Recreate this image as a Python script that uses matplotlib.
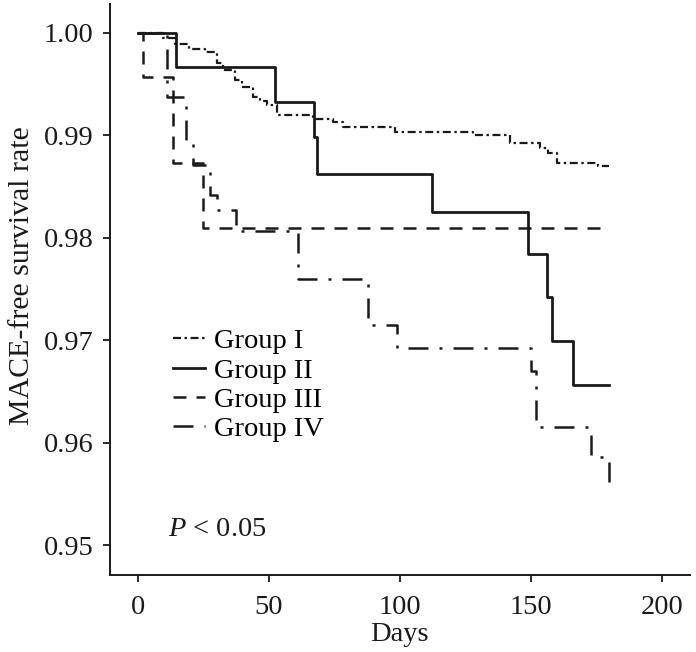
import matplotlib.pyplot as plt

plt.rcParams['font.family'] = ['Liberation Serif', 'DejaVu Serif']
plt.rcParams['mathtext.fontset'] = 'custom'
plt.rcParams['mathtext.it'] = 'Liberation Serif:italic'
plt.rcParams['mathtext.rm'] = 'Liberation Serif'

# Kaplan-Meier steps: event day and survival after it
g1_days = [0, 9.5, 14.1, 19.5, 25.6, 30.2, 32.4, 37.0, 39.7, 43.9, 46.6, 49.2, 53.0, 66.8, 74.4, 78.2, 98.1, 127.9, 142.0, 153.4, 156.5, 159.9, 175.6]
g1_surv = [1.0, 0.9995, 0.99893, 0.99844, 0.99814, 0.99707, 0.99639, 0.99541, 0.99473, 0.99375, 0.99336, 0.99297, 0.99199, 0.99155, 0.99131, 0.99082, 0.99033, 0.99004, 0.98926, 0.98877, 0.98828, 0.98730, 0.98701]

g2_days = [0, 14.5, 52.3, 67.2, 68.3, 112.2, 148.9, 156.1, 158.0, 166.0]
g2_surv = [1.0, 0.99665, 0.99329, 0.98988, 0.98623, 0.98247, 0.97840, 0.97420, 0.96992, 0.96563]

g3_days = [0, 1.9, 13.4, 24.8]
g3_surv = [1.0, 0.99570, 0.98730, 0.98096]

g4_days = [0, 11.1, 18.3, 21.0, 27.5, 30.2, 37.4, 61.1, 87.8, 98.9, 150.0, 151.9, 172.9, 179.8]
g4_surv = [1.0, 0.99375, 0.98916, 0.98711, 0.98418, 0.98271, 0.98066, 0.97598, 0.97148, 0.96924, 0.96699, 0.96152, 0.95859, 0.95586]

end_day = 180
labels = ['Group I', 'Group II', 'Group III', 'Group IV']

fig = plt.figure(figsize=(6.96, 6.52), dpi=100)
ax = fig.add_axes([0.158, 0.118, 0.833, 0.876])

ink = '#1a1a1a'
styles = [
    dict(lw=1.6, dashes=(3.6, 1.6, 1.1, 1.6)),
    dict(lw=2.0),
    dict(lw=1.8, dashes=(5.2, 4.0)),
    dict(lw=1.8, dashes=(8.0, 4.4, 1.2, 4.4)),
]
groups = [(g1_days, g1_surv), (g2_days, g2_surv), (g3_days, g3_surv), (g4_days, g4_surv)]
for (d, s), lab, st in zip(groups, labels, styles):
    ax.step(d + [end_day], s + [s[-1]], where='post', color=ink, label=lab, **st)

ax.set_xlim(-10.7, 210.7)
ax.set_ylim(0.94707, 1.00283)
ax.set_xticks([0, 50, 100, 150, 200])
ax.set_yticks([0.95, 0.96, 0.97, 0.98, 0.99, 1.00])
ax.set_yticklabels(['0.95', '0.96', '0.97', '0.98', '0.99', '1.00'])
ax.tick_params(labelsize=20.5, length=5, width=1.3, color=ink, labelcolor=ink)
ax.tick_params(axis='x', pad=9)
ax.tick_params(axis='y', pad=7)

for side in ['top', 'right']:
    ax.spines[side].set_visible(False)
for side in ['left', 'bottom']:
    ax.spines[side].set_linewidth(1.4)
    ax.spines[side].set_color(ink)

ax.set_xlabel('Days', fontsize=20.5, color=ink)
ax.xaxis.set_label_coords(0.5, -0.083)
ax.set_ylabel('MACE-free survival rate', fontsize=21.5, color=ink)
ax.yaxis.set_label_coords(-0.13, 0.525)

ax.text(0.10, 0.08, '$P$ < 0.05', transform=ax.transAxes, fontsize=20.5, color=ink,
        va='center', ha='left')

ax.legend(loc='upper left', bbox_to_anchor=(0.108, 0.432), frameon=False, fontsize=20.5,
          handlelength=1.15, handletextpad=0.3, labelspacing=0.12, borderpad=0, borderaxespad=0)

fig.savefig('out.png', dpi=100)
